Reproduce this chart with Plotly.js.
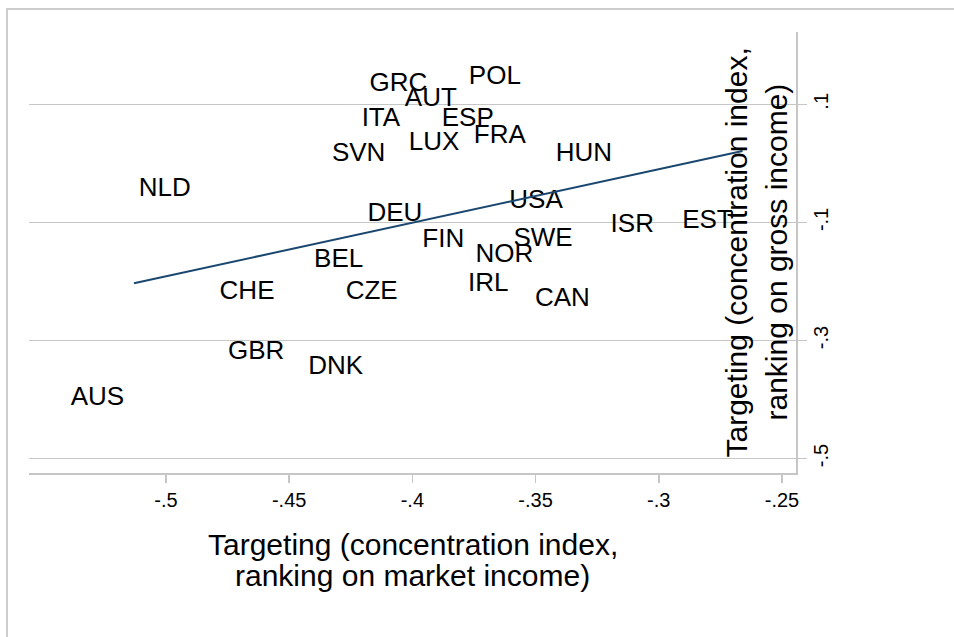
<!DOCTYPE html>
<html>
<head>
<meta charset="utf-8">
<script src="https://cdn.plot.ly/plotly-3.0.1.min.js"></script>
<style>html,body{margin:0;padding:0;background:#fff;}#chart{width:954px;height:637px;}</style>
</head>
<body>
<div id="chart"></div>
<script>
// Country codes and their values (x: targeting on market income, y: targeting on gross income)
var countries = ["AUS","NLD","CHE","GBR","DNK","BEL","CZE","SVN","ITA","GRC","DEU","AUT","LUX","FIN","ESP","IRL","POL","FRA","NOR","USA","SWE","CAN","HUN","ISR","EST"];
var xVals = [-0.513,-0.486,-0.452,-0.448,-0.416,-0.416,-0.402,-0.407,-0.401,-0.390,-0.392,-0.378,-0.377,-0.375,-0.363,-0.357,-0.352,-0.350,-0.347,-0.335,-0.331,-0.324,-0.315,-0.298,-0.266];
var yVals = [-0.398,-0.045,-0.219,-0.321,-0.345,-0.164,-0.219,0.015,0.075,0.134,-0.086,0.108,0.034,-0.130,0.075,-0.205,0.145,0.046,-0.156,-0.065,-0.129,-0.230,0.015,-0.105,-0.098];
// Fitted line end points
var fitX = [-0.513, -0.266];
var fitY = [-0.203, 0.021];
// Tick values and labels
var xTickVals = [-0.5,-0.45,-0.4,-0.35,-0.3,-0.25];
var xTickText = ["-.5","-.45","-.4","-.35","-.3","-.25"];
var yTickVals = [0.1,-0.1,-0.3,-0.5];
var yTickText = [".1","-.1","-.3","-.5"];
var xTitleLines = ["Targeting (concentration index,", "ranking on market income)"];
var yTitleLines = ["Targeting (concentration index,", "ranking on gross income)"];

var FONT = '"Liberation Sans", Arial, Helvetica, sans-serif';
var GRAY = '#c6c6c6';

var traces = [
  {
    x: xVals, y: yVals, text: countries,
    type: 'scatter', mode: 'markers+text',
    marker: {size: 14, color: 'rgba(0,0,0,0)'},
    textposition: 'middle left',
    textfont: {family: FONT, size: 26, color: '#000'},
    hoverinfo: 'text+x+y', showlegend: false, cliponaxis: false
  },
  {
    x: fitX, y: fitY, type: 'scatter', mode: 'lines',
    line: {color: '#1a476f', width: 2}, showlegend: false, hoverinfo: 'skip'
  }
];

var PL = 29, PR = 158, PT = 32, PB = 164, W = 954, H = 637;
var pw = W - PL - PR, ph = H - PT - PB;
function px2paperX(p){ return (p - PL) / pw; }
function py2paperY(p){ return (H - PB - p) / ph; }

var layout = {
  width: W, height: H,
  margin: {l: PL, r: PR, t: PT, b: PB, pad: 0},
  paper_bgcolor: '#fff', plot_bgcolor: '#fff',
  font: {family: FONT, color: '#000'},
  showlegend: false,
  xaxis: {
    range: [-0.5556, -0.2443],
    tickmode: 'array', tickvals: xTickVals, ticktext: xTickText,
    showgrid: false, zeroline: false,
    showline: true, linecolor: GRAY, linewidth: 1.5,
    ticks: 'outside', ticklen: 8, tickcolor: GRAY, tickwidth: 1.5,
    tickfont: {family: FONT, size: 20, color: '#000'},
    fixedrange: true
  },
  yaxis: {
    side: 'right',
    range: [-0.5244, 0.2225],
    tickmode: 'array', tickvals: yTickVals, ticktext: yTickText,
    tickangle: -90,
    ticklabelstandoff: -3,
    showgrid: true, gridcolor: GRAY, gridwidth: 1.5,
    zeroline: false,
    showline: true, linecolor: GRAY, linewidth: 1.5,
    ticks: 'outside', ticklen: 9, tickcolor: GRAY, tickwidth: 1.5,
    tickfont: {family: FONT, size: 20, color: '#000'},
    fixedrange: true
  },
  annotations: [
    {text: xTitleLines[0], xref: 'paper', yref: 'paper', x: 0.5, y: 0, xanchor: 'center', yanchor: 'middle', yshift: -71, showarrow: false, font: {family: FONT, size: 30, color: '#000'}},
    {text: xTitleLines[1], xref: 'paper', yref: 'paper', x: 0.5, y: 0, xanchor: 'center', yanchor: 'middle', yshift: -102, showarrow: false, font: {family: FONT, size: 30, color: '#000'}},
    {text: yTitleLines[0], xref: 'paper', yref: 'paper', x: 1, y: 0.5, xanchor: 'center', yanchor: 'middle', xshift: -60, textangle: -90, showarrow: false, font: {family: FONT, size: 30, color: '#000'}},
    {text: yTitleLines[1], xref: 'paper', yref: 'paper', x: 1, y: 0.5, xanchor: 'center', yanchor: 'middle', xshift: -20, textangle: -90, showarrow: false, font: {family: FONT, size: 30, color: '#000'}}
  ],
  shapes: [
    {type: 'line', xref: 'paper', yref: 'paper', x0: px2paperX(7), x1: px2paperX(7), y0: py2paperY(8), y1: py2paperY(660), line: {color: '#cccccc', width: 2}},
    {type: 'line', xref: 'paper', yref: 'paper', x0: px2paperX(6), x1: px2paperX(980), y0: py2paperY(9), y1: py2paperY(9), line: {color: '#cccccc', width: 2}}
  ]
};

Plotly.newPlot('chart', traces, layout, {displayModeBar: false, staticPlot: true});
</script>
</body>
</html>
